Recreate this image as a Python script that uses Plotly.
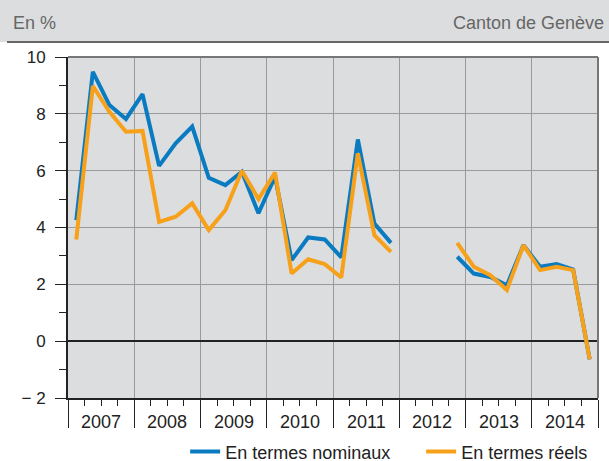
import plotly.graph_objects as go

years = [2007, 2008, 2009, 2010, 2011, 2012, 2013, 2014]
quarters = [1, 2, 3, 4]
nominal = [4.26, 9.48, 8.31, 7.82,
           8.69, 6.17, 6.96, 7.55,
           5.75, 5.49, 5.96, 4.50,
           5.79, 2.85, 3.65, 3.58,
           2.95, 7.10, 4.14, 3.46,
           None, None, None, 2.97,
           2.38, 2.26, 1.97, 3.38,
           2.62, 2.71, 2.52, -0.64]
real = [3.58, 8.98, 8.07, 7.37,
        7.40, 4.20, 4.38, 4.85,
        3.91, 4.61, 6.00, 5.00,
        5.93, 2.38, 2.88, 2.71,
        2.24, 6.61, 3.73, 3.14,
        None, None, None, 3.46,
        2.62, 2.32, 1.80, 3.38,
        2.50, 2.62, 2.50, -0.64]
y_ticks = [-2, 0, 2, 4, 6, 8, 10]
y_labels = ["− 2", "0", "2", "4", "6", "8", "10"]

x = [y + (q - 0.5) / 4 for y in years for q in quarters]

BLUE = "#0a7bc1"
ORANGE = "#f7a11a"
BG = "#dcdddf"
FONT = "Liberation Sans, Arial, sans-serif"

fig = go.Figure()
fig.add_trace(go.Scatter(x=x, y=nominal, mode="lines", name="En termes nominaux",
                         line=dict(color=BLUE, width=4), connectgaps=False))
fig.add_trace(go.Scatter(x=x, y=real, mode="lines", name="En termes réels",
                         line=dict(color=ORANGE, width=4), connectgaps=False))

fig.update_layout(
    width=609, height=461,
    margin=dict(l=68, r=11, t=57, b=63),
    paper_bgcolor="white",
    plot_bgcolor=BG,
    font=dict(family=FONT, size=17, color="#222"),
    showlegend=True,
    legend=dict(orientation="h", xref="container", yref="container",
                x=0.304, xanchor="left", y=0.02, yanchor="middle",
                font=dict(size=18, color="#222"), itemwidth=30,
                entrywidth=191, entrywidthmode="pixels",
                bgcolor="rgba(0,0,0,0)"),
    xaxis=dict(range=[2007, 2015], tickmode="array", automargin=False,
               tickvals=years + [2015], ticktext=[""] * 9,
               ticks="outside", ticklen=28, tickwidth=1, tickcolor="#222",
               showgrid=True, gridcolor="#9a9a9a", gridwidth=1.2,
               showline=True, linecolor="#222", linewidth=2,
               zeroline=False,
               minor=dict(dtick=0.25, tick0=2007, ticks="outside", ticklen=6,
                          tickcolor="#222", showgrid=False)),
    yaxis=dict(range=[-2, 10], tickmode="array", automargin=False,
               tickvals=y_ticks, ticktext=y_labels,
               ticks="outside", ticklen=11, tickcolor="#222", tickwidth=1.2,
               showgrid=True, gridcolor="#9a9a9a", gridwidth=1.2,
               showline=True, linecolor="#222", linewidth=2,
               zeroline=True, zerolinecolor="#222", zerolinewidth=1.5,
               tickfont=dict(size=17), ticklabelstandoff=6,
               minor=dict(dtick=1, tick0=-1, ticks="outside", ticklen=7,
                          tickcolor="#222", showgrid=False)),
)

# header band
fig.add_shape(type="rect", xref="paper", yref="paper", x0=-0.13, x1=1.03,
              y0=1.044, y1=1.17, fillcolor=BG, line=dict(width=0), layer="below")
fig.add_shape(type="line", xref="paper", yref="paper", x0=-0.115, x1=1.03,
              y0=1.044, y1=1.044, line=dict(color="#666", width=2))
# top and right border
fig.add_shape(type="line", xref="paper", yref="paper", x0=0, x1=1, y0=1, y1=1,
              line=dict(color="#777", width=2))
fig.add_shape(type="line", xref="paper", yref="paper", x0=1, x1=1, y0=0, y1=1,
              line=dict(color="#777", width=2))

fig.add_annotation(xref="paper", yref="paper", x=-0.108, y=1.1, text="En %",
                   showarrow=False, xanchor="left", yanchor="middle",
                   font=dict(size=18, color="#666"))
fig.add_annotation(xref="paper", yref="paper", x=1.015, y=1.1, text="Canton de Genève",
                   showarrow=False, xanchor="right", yanchor="middle",
                   font=dict(size=18, color="#666"))

for yr in years:
    fig.add_annotation(xref="x", yref="paper", x=yr + 0.5, y=-0.069, text=str(yr),
                       showarrow=False, xanchor="center", yanchor="middle",
                       font=dict(size=18, color="#222"))

fig.write_html("out.html", config={"displayModeBar": False},
               post_script="document.body.style.margin='0';document.body.style.overflow='hidden';")
